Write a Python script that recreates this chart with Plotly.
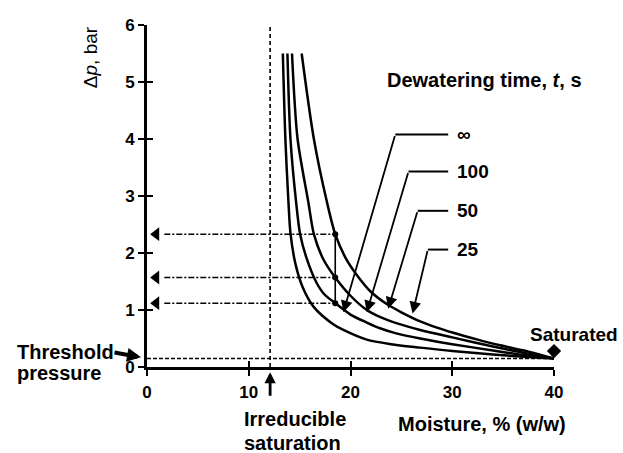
import plotly.graph_objects as go

# ---------------- data ----------------
# Dewatering curves: moisture (% w/w) vs pressure difference (bar)
moisture_inf = [13.35, 13.6, 13.9, 14.1, 14.6, 15.3, 16.4, 18.3, 19.3, 21.6, 24.0, 26.85, 30.0, 34.0, 37.0, 40.0]
dp_inf = [5.5, 4.0, 2.9, 2.35, 1.8, 1.4, 1.05, 0.75, 0.65, 0.48, 0.40, 0.34, 0.28, 0.22, 0.18, 0.15]

moisture_100 = [13.8, 14.1, 14.65, 15.05, 15.7, 16.6, 17.4, 18.5, 20.0, 21.6, 22.9, 24.5, 26.85, 30.0, 34.0, 37.0, 40.0]
dp_100 = [5.5, 4.0, 2.9, 2.33, 1.9, 1.5, 1.28, 1.12, 0.92, 0.78, 0.68, 0.59, 0.50, 0.40, 0.29, 0.21, 0.15]

moisture_50 = [14.25, 14.8, 15.85, 16.4, 17.3, 18.5, 20.0, 21.6, 23.0, 24.5, 26.85, 30.0, 34.0, 37.0, 40.0]
dp_50 = [5.5, 4.0, 2.9, 2.33, 1.9, 1.57, 1.25, 1.0, 0.87, 0.77, 0.65, 0.52, 0.36, 0.25, 0.15]

moisture_25 = [15.2, 16.4, 17.65, 18.5, 19.5, 20.6, 22.0, 23.6, 25.0, 26.85, 28.5, 30.1, 32.5, 34.7, 37.5, 40.0]
dp_25 = [5.5, 4.0, 2.92, 2.33, 1.92, 1.62, 1.32, 1.10, 0.96, 0.80, 0.69, 0.60, 0.48, 0.38, 0.27, 0.15]

time_labels = ["∞", "100", "50", "25"]
label_dp = [4.08, 3.43, 2.74, 2.06]
label_elbow_moisture = [24.4, 25.7, 26.6, 27.6]
label_line_end = 29.6
label_text_moisture = 30.3
arrow_tip_moisture = [19.3, 21.6, 23.7, 26.1]
arrow_tip_dp = [0.96, 0.96, 1.02, 0.94]

constant_moisture = 18.5
dp_levels = [2.33, 1.57, 1.12]
irreducible_moisture = 12.1
threshold_dp = 0.15
saturated_moisture = 40.0
saturated_dp = 0.28

x_ticks = [0, 10, 20, 30, 40]
y_ticks = [0, 1, 2, 3, 4, 5, 6]

# ---------------- figure ----------------
FONT = "Liberation Sans, Arial, sans-serif"
BLACK = "black"

fig = go.Figure()

# reference lines
fig.add_trace(go.Scatter(x=[irreducible_moisture, irreducible_moisture], y=[0, 6], mode="lines",
                         line=dict(color=BLACK, width=1.6, dash="4px,3px"), cliponaxis=False,
                         hoverinfo="skip", showlegend=False))
fig.add_trace(go.Scatter(x=[0, saturated_moisture], y=[threshold_dp, threshold_dp], mode="lines",
                         line=dict(color=BLACK, width=1.6, dash="4px,2px"), cliponaxis=False,
                         hoverinfo="skip", showlegend=False))

for lvl in dp_levels:
    fig.add_trace(go.Scatter(x=[1.7, constant_moisture], y=[lvl, lvl], mode="lines",
                             line=dict(color=BLACK, width=1.5, dash="6px,2px,2px,2px"),
                             hoverinfo="skip", showlegend=False))
fig.add_trace(go.Scatter(x=[0.9] * len(dp_levels), y=dp_levels, mode="markers",
                         marker=dict(symbol="triangle-left", size=12, color=BLACK),
                         hoverinfo="skip", showlegend=False))
fig.add_trace(go.Scatter(x=[constant_moisture] * len(dp_levels), y=dp_levels, mode="lines+markers",
                         line=dict(color=BLACK, width=1.6), marker=dict(size=6, color=BLACK),
                         hoverinfo="skip", showlegend=False))

# curves
for mx, dy in [(moisture_inf, dp_inf), (moisture_100, dp_100), (moisture_50, dp_50), (moisture_25, dp_25)]:
    fig.add_trace(go.Scatter(x=mx, y=dy, mode="lines",
                             line=dict(color=BLACK, width=2.5, shape="spline", smoothing=0.8),
                             cliponaxis=False, hoverinfo="skip", showlegend=False))

# label elbows
for ex, ly in zip(label_elbow_moisture, label_dp):
    fig.add_trace(go.Scatter(x=[ex, label_line_end], y=[ly, ly], mode="lines",
                             line=dict(color=BLACK, width=2), hoverinfo="skip", showlegend=False))

# saturated point
fig.add_trace(go.Scatter(x=[saturated_moisture], y=[saturated_dp], mode="markers",
                         marker=dict(symbol="diamond", size=11, color=BLACK), cliponaxis=False,
                         hoverinfo="skip", showlegend=False))

# dummy trace for the inner-tick overlay axes
fig.add_trace(go.Scatter(x=[0], y=[0], xaxis="x2", yaxis="y2", mode="markers",
                         marker=dict(opacity=0), hoverinfo="skip", showlegend=False))

annotations = []
for lbl, ly, ex, tx, ty in zip(time_labels, label_dp, label_elbow_moisture, arrow_tip_moisture, arrow_tip_dp):
    annotations.append(dict(x=tx, y=ty, xref="x", yref="y", ax=ex, ay=ly, axref="x", ayref="y",
                            text="", showarrow=True, arrowhead=2, arrowsize=1.3, arrowwidth=1.8,
                            arrowcolor=BLACK))
    annotations.append(dict(x=label_text_moisture, y=ly, xref="x", yref="y", text="<b>" + lbl + "</b>",
                            showarrow=False, xanchor="left", yanchor="middle",
                            font=dict(family=FONT, size=19, color=BLACK)))

def txt(text, x, y, xanchor="left", size=20, bold=True, angle=0):
    return dict(text=("<b>" + text + "</b>") if bold else text, x=x, y=y, xref="paper", yref="paper",
                showarrow=False, xanchor=xanchor, yanchor="middle", textangle=angle,
                font=dict(family=FONT, size=size, color=BLACK))

annotations += [
    txt("Dewatering time, <i>t</i>, s", 0.5848, 0.839, size=20),
    txt("Δ<i>p</i>, bar", -0.14, 0.906, xanchor="center", size=19, bold=False, angle=-90),
    txt("Threshold", -0.324, 0.0447),
    txt("pressure", -0.324, -0.0184),
    txt("Irreducible", 0.2327, -0.153),
    txt("saturation", 0.2327, -0.222),
    txt("Moisture, % (w/w)", 0.8224, -0.1667, xanchor="center"),
    txt("Saturated", 1.049, 0.0936, xanchor="center", size=19),
]
# threshold pressure arrow
annotations.append(dict(x=-0.0147, y=0.17, xref="paper", yref="y", ax=-28, ay=-5, text="",
                        showarrow=True, arrowhead=2, arrowsize=0.7, arrowwidth=4, arrowcolor=BLACK))
# irreducible saturation arrow
annotations.append(dict(x=irreducible_moisture, y=-0.015, xref="x", yref="paper", ax=0, ay=25, text="",
                        showarrow=True, arrowhead=2, arrowsize=0.8, arrowwidth=2.8, arrowcolor=BLACK))

axis_common = dict(showgrid=False, zeroline=False, color=BLACK, linecolor=BLACK, tickcolor=BLACK,
                   tickfont=dict(family=FONT, size=17, color=BLACK))

fig.update_layout(
    width=623, height=453,
    margin=dict(l=147, r=69, t=25, b=86),
    paper_bgcolor="white", plot_bgcolor="white",
    showlegend=False,
    xaxis=dict(range=[0, 40], tickvals=x_ticks, ticktext=["<b>%d</b>" % v for v in x_ticks],
               ticks="outside", ticklen=6, tickwidth=2.2,
               showline=True, linewidth=3, ticklabelstandoff=2, **axis_common),
    yaxis=dict(range=[0, 6], tickvals=y_ticks, ticktext=["<b>%d</b>" % v for v in y_ticks],
               ticks="outside", ticklen=6, tickwidth=2.2,
               showline=True, linewidth=3, ticklabelstandoff=0, **axis_common),
    xaxis2=dict(range=[0, 40], tickvals=x_ticks[1:], ticks="inside", ticklen=6, tickwidth=2.2,
                overlaying="x", anchor="y2", showticklabels=False, showline=False,
                showgrid=False, zeroline=False, tickcolor=BLACK),
    yaxis2=dict(range=[0, 6], tickvals=y_ticks[1:], ticks="inside", ticklen=6, tickwidth=2.2,
                overlaying="y", anchor="x2", showticklabels=False, showline=False,
                showgrid=False, zeroline=False, tickcolor=BLACK),
    annotations=annotations,
)

fig.write_html("out.html")
